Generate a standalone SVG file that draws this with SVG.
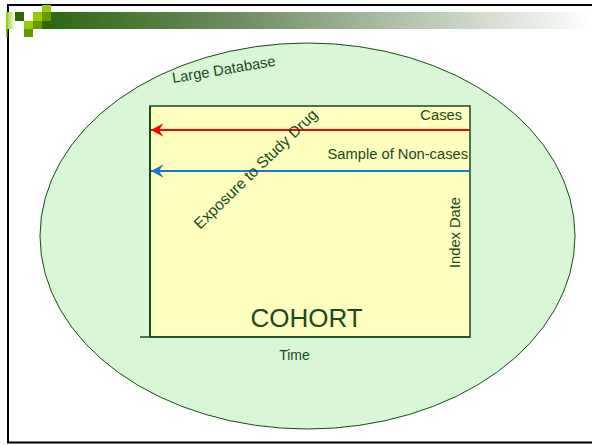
<svg xmlns="http://www.w3.org/2000/svg" width="592" height="445" viewBox="0 0 592 445">
  <defs>
    <linearGradient id="bar" x1="0" y1="0" x2="1" y2="0">
      <stop offset="0" stop-color="#2e6a12"/>
      <stop offset="0.35" stop-color="#6f8d62"/>
      <stop offset="1" stop-color="#ffffff"/>
    </linearGradient>
    <linearGradient id="fade" x1="0" y1="0" x2="1" y2="0">
      <stop offset="0" stop-color="#99cc33"/>
      <stop offset="1" stop-color="#ffffff"/>
    </linearGradient>
    <marker id="arrRed" markerUnits="userSpaceOnUse" markerWidth="16" markerHeight="16" viewBox="0 0 16 16" refX="14" refY="8" orient="auto">
      <path d="M14,8 L1.5,1.3 L6,8 L1.5,14.7 Z" fill="#ff0000"/>
    </marker>
    <marker id="arrBlue" markerUnits="userSpaceOnUse" markerWidth="16" markerHeight="16" viewBox="0 0 16 16" refX="14" refY="8" orient="auto">
      <path d="M14,8 L1.5,1.3 L6,8 L1.5,14.7 Z" fill="#1a75cf"/>
    </marker>
  </defs>
  <style>
    .t { font-family: "Liberation Sans", Arial, sans-serif; fill: #1a4a1a; }
    .lbl { font-size: 14.7px; }
  </style>

  <!-- slide frame and header -->
  <g id="frame">
    <rect x="0" y="0" width="592" height="445" fill="#ffffff"/>
    <line x1="7" y1="5" x2="592" y2="5" stroke="#000" stroke-width="2"/>
    <line x1="8" y1="4" x2="8" y2="443" stroke="#000" stroke-width="2"/>
    <line x1="7" y1="442.5" x2="592" y2="442.5" stroke="#000" stroke-width="2"/>
    <rect x="51" y="12" width="541" height="17" fill="url(#bar)"/>
    <rect x="6" y="12" width="10" height="17" fill="url(#fade)"/>
    <rect x="6" y="12" width="1.5" height="25" fill="#99cc00"/>
    <rect x="42" y="5" width="9" height="7" fill="#99cc00"/>
    <rect x="15" y="12" width="9" height="9" fill="#336600"/>
    <rect x="33" y="12" width="9" height="9" fill="#99cc00"/>
    <rect x="42" y="12" width="9" height="9" fill="#669900"/>
    <rect x="24" y="21" width="9" height="8" fill="#99cc00"/>
    <rect x="33" y="21" width="9" height="8" fill="#669900"/>
    <rect x="42" y="21" width="9" height="8" fill="#336600"/>
    <rect x="24" y="29" width="9" height="8" fill="#669900"/>
  </g>

  <g id="database">
    <ellipse cx="307.5" cy="236" rx="267.5" ry="193" fill="#d9f7d6" stroke="#1a4a1a" stroke-width="1"/>
    <text class="t lbl" transform="translate(173,83) rotate(-9.5)">Large Database</text>
  </g>

  <g id="cohort">
    <rect x="150" y="106" width="320" height="231" fill="#ffffc0" stroke="#1a4a1a" stroke-width="1.5"/>
    <line x1="150" y1="106" x2="150" y2="337" stroke="#1a4a1a" stroke-width="2"/>
    <text class="t" x="306.5" y="327" font-size="26" text-anchor="middle">COHORT</text>
  </g>

  <g id="time-axis">
    <line x1="140" y1="337" x2="470" y2="337" stroke="#1a4a1a" stroke-width="1.5"/>
    <text class="t" x="294.5" y="360" font-size="14" text-anchor="middle">Time</text>
  </g>

  <g id="connectors">
    <line x1="470" y1="130" x2="151" y2="130" stroke="#ff0000" stroke-width="2" marker-end="url(#arrRed)"/>
    <line x1="470" y1="171" x2="151" y2="171" stroke="#1a75cf" stroke-width="2" marker-end="url(#arrBlue)"/>
  </g>

  <g id="labels">
    <text class="t lbl" x="462" y="120" text-anchor="end">Cases</text>
    <text class="t lbl" x="468" y="158.5" text-anchor="end">Sample of Non-cases</text>
    <text class="t" font-size="15.5" transform="translate(200,230) rotate(-44)">Exposure to Study Drug</text>
    <text class="t lbl" transform="translate(460,232.5) rotate(-90)" text-anchor="middle">Index Date</text>
  </g>
</svg>
